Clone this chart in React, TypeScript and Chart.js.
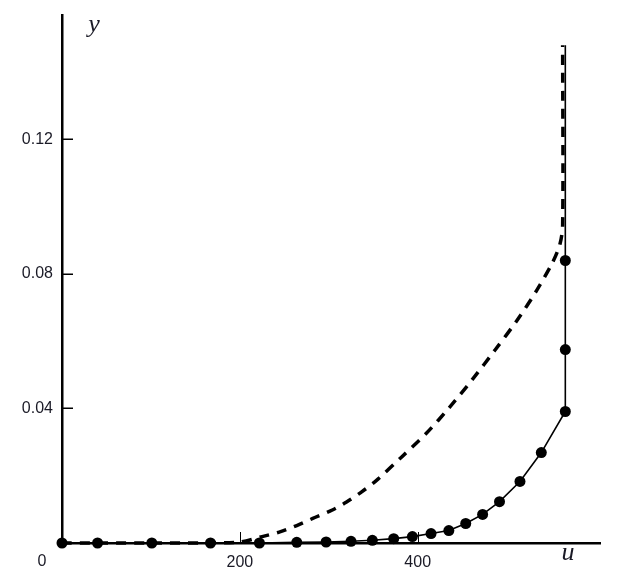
import React, { useEffect, useRef } from "react";
import { Chart, registerables } from "chart.js";

Chart.register(...registerables);

// Solid curve with markers (u, y)
const solidU = [0, 40, 101, 167, 222, 264, 297, 325, 349, 373, 394, 415, 435, 454, 473, 492, 515, 539, 566, 566, 566, 566];
const solidY = [0, 0, 0, 0, 0, 0.0002, 0.0003, 0.0005, 0.0008, 0.0013, 0.0019, 0.0028, 0.0037, 0.0058, 0.0085, 0.0123, 0.0183, 0.0269, 0.0391, 0.0575, 0.084, 0.148];
const solidMarker = [1, 1, 1, 1, 1, 1, 1, 1, 1, 1, 1, 1, 1, 1, 1, 1, 1, 1, 1, 1, 1, 0];

// Dashed curve (u, y)
const dashU = [0, 100, 155, 200, 225, 245, 264, 282, 304, 320, 337, 354, 382, 410, 436, 462, 487, 512, 534, 552, 560, 563, 563];
const dashY = [0, 0, 0, 0.0003, 0.0019, 0.0033, 0.0052, 0.0073, 0.0098, 0.0122, 0.0152, 0.0187, 0.0256, 0.0327, 0.0404, 0.0488, 0.0574, 0.0663, 0.0752, 0.0836, 0.0889, 0.0946, 0.148];

const xTicks = [200, 400];
const yTicks = [0.04, 0.08, 0.12];
const xMax = 605;
const yMax = 0.157;

const labelColor = "#1a1a26";
const tickFont = { family: "'Liberation Sans', Arial, sans-serif", size: 16 };

const decorPlugin = {
  id: "decor",
  afterDraw(chart: any) {
    const { ctx, chartArea, scales } = chart;
    const xs = scales.x;
    const ys = scales.y;
    ctx.save();
    ctx.strokeStyle = "#000";
    // inward y ticks
    ctx.lineWidth = 1.5;
    yTicks.forEach((v) => {
      const py = Math.round(ys.getPixelForValue(v)) + 0.25;
      ctx.beginPath();
      ctx.moveTo(chartArea.left, py);
      ctx.lineTo(chartArea.left + 11, py);
      ctx.stroke();
    });
    // inward x ticks
    ctx.lineWidth = 1;
    xTicks.forEach((v) => {
      const px = Math.round(xs.getPixelForValue(v)) + 0.5;
      ctx.beginPath();
      ctx.moveTo(px, chartArea.bottom);
      ctx.lineTo(px, chartArea.bottom - 11);
      ctx.stroke();
    });
    // origin label
    ctx.fillStyle = labelColor;
    ctx.font = "16px 'Liberation Sans', Arial, sans-serif";
    ctx.textAlign = "center";
    ctx.textBaseline = "middle";
    ctx.fillText("0", xs.getPixelForValue(0) - 20, chartArea.bottom + 19);
    // axis names
    ctx.font = "italic 26px 'Liberation Serif', 'DejaVu Serif', serif";
    ctx.textBaseline = "alphabetic";
    ctx.fillText("y", chartArea.left + 32, chartArea.top + 17);
    ctx.fillText("u", xs.getPixelForValue(569), chartArea.bottom + 17);
    ctx.restore();
  },
};

export default function App() {
  const ref = useRef<HTMLCanvasElement>(null);
  useEffect(() => {
    if (!ref.current) return;
    const chart = new Chart(ref.current, {
      type: "line",
      data: {
        datasets: [
          {
            label: "solid",
            data: solidU.map((u, i) => ({ x: u, y: solidY[i] })),
            borderColor: "#000",
            borderWidth: 1.6,
            pointRadius: solidMarker.map((m) => (m ? 5.5 : 0)),
            pointBackgroundColor: "#000",
            pointBorderWidth: 0,
            tension: 0,
            fill: false,
            clip: false,
          },
          {
            label: "dashed",
            data: dashU.map((u, i) => ({ x: u, y: dashY[i] })),
            borderColor: "#000",
            borderWidth: 3.5,
            borderDash: [10, 8],
            borderCapStyle: "butt",
            pointRadius: 0,
            tension: 0.3,
            fill: false,
            clip: false,
          },
        ],
      },
      options: {
        animation: false,
        responsive: false,
        devicePixelRatio: 1,
        layout: { padding: { top: 15, right: 19, left: 0, bottom: 0 } },
        plugins: { legend: { display: false }, tooltip: { enabled: false } },
        scales: {
          x: {
            type: "linear",
            min: 0,
            max: xMax,
            grid: { display: false, drawTicks: false },
            border: { display: true, color: "#000", width: 2.5 },
            ticks: { padding: 10, font: tickFont, color: labelColor },
            afterBuildTicks: (s: any) => {
              s.ticks = xTicks.map((v) => ({ value: v }));
            },
            afterFit: (s: any) => {
              s.height = 32;
              s.paddingLeft = 0;
              s.paddingRight = 0;
            },
          },
          y: {
            type: "linear",
            min: 0,
            max: yMax,
            grid: { display: false, drawTicks: false },
            border: { display: true, color: "#000", width: 2.5 },
            ticks: { padding: 9, font: tickFont, color: labelColor },
            afterBuildTicks: (s: any) => {
              s.ticks = yTicks.map((v) => ({ value: v }));
            },
            afterFit: (s: any) => {
              s.width = 62;
              s.paddingTop = 0;
              s.paddingBottom = 0;
            },
          },
        },
      },
      plugins: [decorPlugin],
    } as any);
    return () => chart.destroy();
  }, []);
  return (
    <div style={{ position: "absolute", left: 0, top: 0, width: 619, height: 575, background: "#fff" }}>
      <canvas ref={ref} width={619} height={575} style={{ display: "block" }} />
    </div>
  );
}
